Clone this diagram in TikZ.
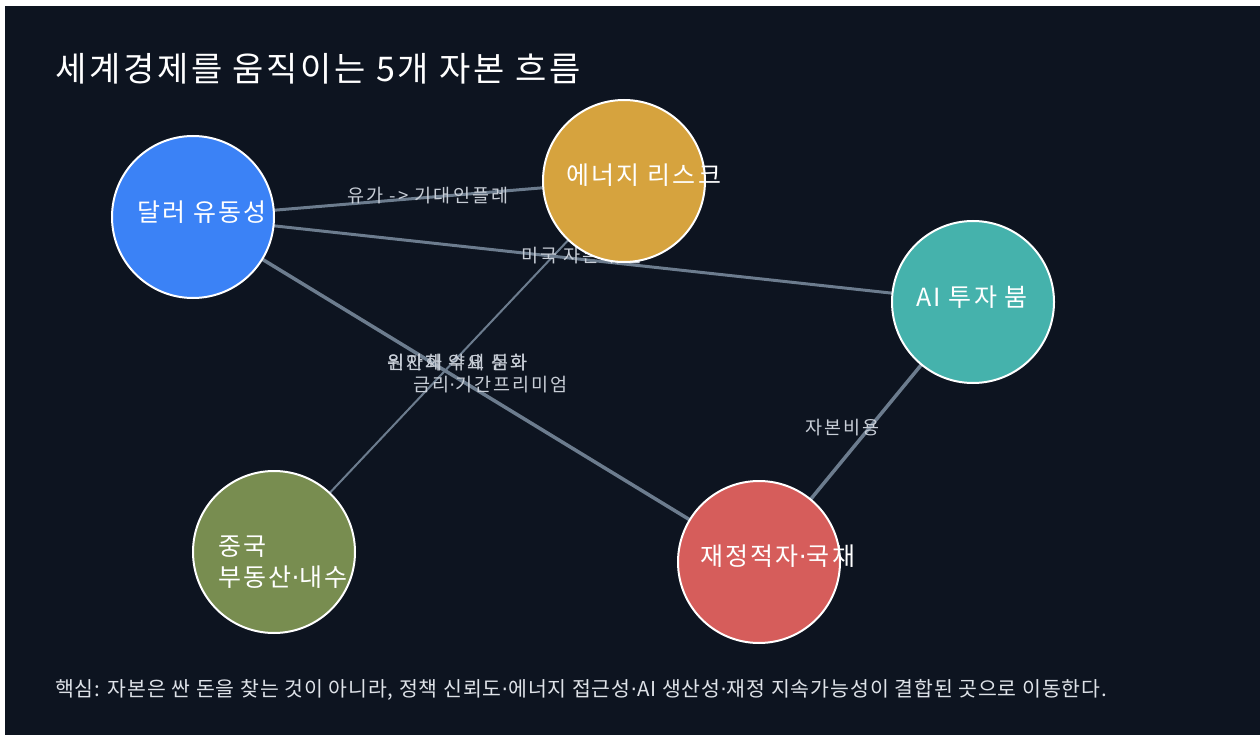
\documentclass[tikz,border=0pt]{standalone}
\usepackage{fontspec}
\setmainfont{Noto Sans CJK KR}
\newfontfamily\dvsfont{DejaVu Sans}
\newcommand{\mydot}{{\dvsfont ·}}
\definecolor{bgc}{RGB}{13,20,32}
\definecolor{edgec}{RGB}{108,124,142}
\definecolor{elabc}{RGB}{200,206,215}
\definecolor{footc}{RGB}{222,226,232}
\definecolor{cdollar}{RGB}{59,130,246}
\definecolor{cenergy}{RGB}{214,163,62}
\definecolor{cai}{RGB}{69,178,172}
\definecolor{cchina}{RGB}{120,141,80}
\definecolor{cfiscal}{RGB}{214,93,91}
\pgfdeclarelayer{edgelayer}
\pgfdeclarelayer{labellayer}
\pgfsetlayers{edgelayer,labellayer,main}
\tikzset{
  flow/.style={circle, draw=white, line width=2pt, minimum size=162pt, inner sep=0pt},
  ntext/.style={anchor=west, text=white, font=\fontsize{25}{31}\selectfont\addfontfeatures{LetterSpace=9}, inner sep=0pt, align=left},
  conn/.style={draw=edgec},
  elab/.style={anchor=west, text=elabc, font=\fontsize{18.5}{22}\selectfont\addfontfeatures{LetterSpace=11.5}, inner sep=0pt},
}
\begin{document}
\begin{tikzpicture}[x=1pt,y=-1pt]
\useasboundingbox (0,0) rectangle (1260,735);
\begin{pgfonlayer}{edgelayer}
\fill[white] (0,0) rectangle (1260,735);
\fill[bgc] (5,6) rectangle (1260,735);
\end{pgfonlayer}
% circles
\node[flow, fill=cdollar] (dollar) at (193,217) {};
\node[flow, fill=cenergy] (energy) at (624,181) {};
\node[flow, fill=cai] (ai) at (973,302) {};
\node[flow, fill=cchina] (china) at (274,552) {};
\node[flow, fill=cfiscal] (fiscal) at (759,562) {};
% circle texts
\node[ntext] (tdollar) at (137,212) {달러 유동성};
\node[ntext] (tenergy) at (566,175) {에너지 리스크};
\node[ntext] (tai) at (916,297) {AI 투자 붐};
\node[ntext] (tchina) at (218,562) {중국\\부동산\mydot 내수};
\node[ntext] (tfiscal) at (700,556) {재정적자\mydot 국채};
% connectors
\begin{pgfonlayer}{edgelayer}
\draw[conn, line width=3pt] (dollar.center) -- (energy.center);
\draw[conn, line width=3pt] (dollar.center) -- (ai.center);
\draw[conn, line width=3.5pt] (dollar.center) -- (fiscal.center);
\draw[conn, line width=2pt] (china.center) -- (energy.center);
\draw[conn, line width=3.5pt] (ai.center) -- (fiscal.center);
\end{pgfonlayer}
% connector labels
\begin{pgfonlayer}{labellayer}
\node[elab] (l1) at (347,196) {유가 -> 기대인플레};
\node[elab] (l2) at (521,256) {미국 자본 유입};
\node[elab] (l3) at (387,363) {원자재 수요 둔화};
\node[elab] (l4) at (387,363) {위안화 약세 심화};
\node[elab] (l5) at (413,385) {금리\mydot 기간프리미엄};
\node[elab] (l6) at (805,428) {자본비용};
\end{pgfonlayer}
% title and footer
\node[anchor=west, text=white, font=\fontsize{34}{40}\selectfont\addfontfeatures{LetterSpace=8}, inner sep=0pt] (title) at (55,69) {세계경제를 움직이는 5개 자본 흐름};
\node[anchor=west, text=footc, font=\fontsize{20.5}{24}\selectfont\addfontfeatures{LetterSpace=4.5}, inner sep=0pt] (foot) at (55,690) {핵심: 자본은 싼 돈을 찾는 것이 아니라, 정책 신뢰도\mydot 에너지 접근성\mydot AI 생산성\mydot 재정 지속가능성이 결합된 곳으로 이동한다.};
\end{tikzpicture}
\end{document}
